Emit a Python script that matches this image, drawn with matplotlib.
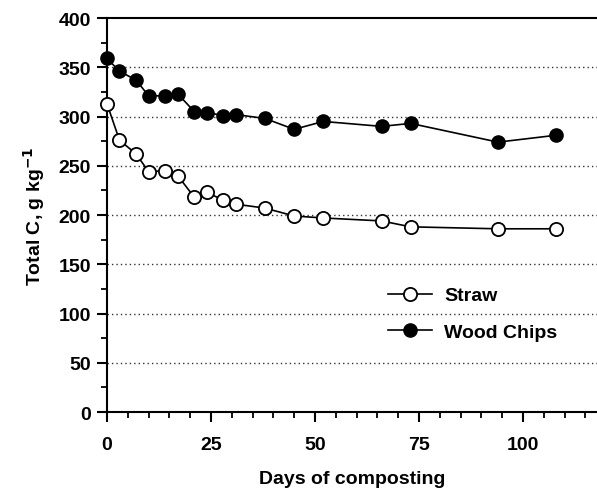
import numpy as np
import matplotlib
matplotlib.use("Agg")
import matplotlib.pyplot as plt
from matplotlib.ticker import MultipleLocator

plt.rcParams['font.family'] = ['Liberation Sans', 'DejaVu Sans']
plt.rcParams['font.weight'] = 'bold'

# composting days and total C (g/kg)
days_straw = [0, 3, 7, 10, 14, 17, 21, 24, 28, 31, 38, 45, 52, 66, 73, 94, 108]
c_straw = [313, 276, 262, 244, 245, 240, 218, 223, 215, 211, 207, 199, 197, 194, 188, 186, 186]

days_wood = [0, 3, 7, 10, 14, 17, 21, 24, 28, 31, 38, 45, 52, 66, 73, 94, 108]
c_wood = [359, 346, 337, 321, 321, 323, 305, 304, 301, 302, 298, 287, 295, 290, 293, 274, 281]

x_ticks = [0, 25, 50, 75, 100]
y_ticks = [0, 50, 100, 150, 200, 250, 300, 350, 400]

fig = plt.figure(figsize=(5.97, 4.89), dpi=100)
ax = fig.add_axes([0.1792, 0.1554, 0.8208, 0.8057])

for y in y_ticks[1:-1]:
    ax.axhline(y, color='#333333', linestyle=(0, (1, 2.2)), linewidth=1.0, zorder=1)

ax.plot(days_straw, c_straw, '-o', color='black', markerfacecolor='white',
        markeredgecolor='black', markersize=9.5, markeredgewidth=1.3,
        linewidth=1.2, label='Straw', zorder=3, clip_on=False)
ax.plot(days_wood, c_wood, '-o', color='black', markerfacecolor='black',
        markersize=9.5, linewidth=1.2, label='Wood Chips', zorder=3, clip_on=False)

ax.set_xlim(0, 117.8)
ax.set_ylim(0, 400)
ax.set_xticks(x_ticks)
ax.set_yticks(y_ticks)
ax.xaxis.set_minor_locator(MultipleLocator(5))
ax.yaxis.set_minor_locator(MultipleLocator(25))
ax.tick_params(which='major', direction='out', length=7.5, width=1.5, labelsize=14, pad=4)
ax.tick_params(which='minor', direction='out', length=4.5, width=1.3)
ax.tick_params(axis='x', pad=10)

for side in ['left', 'bottom', 'top']:
    ax.spines[side].set_linewidth(1.5)
ax.spines['right'].set_visible(False)

ax.set_xlabel('Days of composting', fontsize=14, fontweight='bold', labelpad=12)
ax.set_ylabel('Total C, g kg$^{\\mathbf{-1}}$', fontsize=14, fontweight='bold', labelpad=8)

leg = ax.legend(loc='upper left', bbox_to_anchor=(0.537, 0.362), frameon=False,
                fontsize=14, handlelength=2.3, labelspacing=0.95, handletextpad=0.6)

fig.savefig('out.png', dpi=100)
